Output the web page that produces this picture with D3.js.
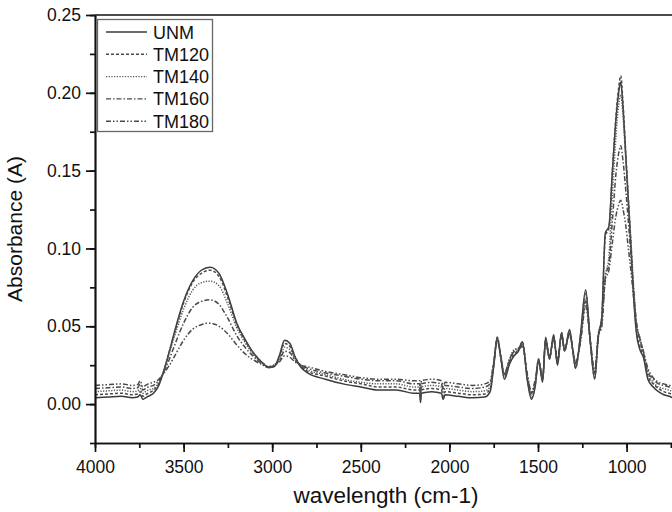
<!DOCTYPE html>
<html>
<head>
<meta charset="utf-8">
<script src="https://cdn.jsdelivr.net/npm/d3@7"></script>
<style>
  body { margin: 0; background: #fff; }
  svg { display: block; font-family: "Liberation Sans", Arial, sans-serif; }
</style>
</head>
<body>
<div id="chart"></div>
<script>
// wavenumber grid (cm-1), descending
const wavenumbers = [
  4000, 3925, 3850, 3790, 3760, 3745, 3730, 3715, 3700, 3670,
  3640, 3610, 3580, 3550, 3500, 3450, 3400, 3350, 3300, 3250,
  3200, 3150, 3100, 3050, 3020, 2990, 2960, 2930, 2900, 2870,
  2840, 2800, 2700, 2600, 2500, 2400, 2300, 2200, 2168, 2163,
  2158, 2100, 2045, 2035, 2025, 1950, 1870, 1800, 1770, 1750,
  1730, 1710, 1690, 1660, 1635, 1610, 1588, 1560, 1537, 1515,
  1497, 1474, 1457, 1435, 1412, 1390, 1367, 1350, 1322, 1300,
  1288, 1260, 1231, 1205, 1180, 1160, 1140, 1120, 1100, 1080,
  1060, 1045, 1033, 1020, 1005, 990, 975, 960, 945, 925,
  905, 880, 850, 820, 790, 760, 730, 700
];

const unm = [
  0.004, 0.0045, 0.005, 0.004, 0.0045, 0.006, 0.003, 0.004, 0.005, 0.007,
  0.012, 0.022, 0.034, 0.047, 0.066, 0.079, 0.086, 0.088, 0.084, 0.070,
  0.052, 0.041, 0.032, 0.026, 0.0235, 0.024, 0.031, 0.041, 0.039, 0.030,
  0.024, 0.020, 0.016, 0.013, 0.011, 0.009, 0.009, 0.007, 0.007, 0.001,
  0.007, 0.008, 0.007, 0.003, 0.006, 0.005, 0.004, 0.0045, 0.008, 0.024,
  0.043, 0.030, 0.016, 0.026, 0.031, 0.034, 0.040, 0.015, 0.003, 0.012,
  0.029, 0.014, 0.043, 0.029, 0.0445, 0.025, 0.046, 0.034, 0.048, 0.031,
  0.023, 0.045, 0.0735, 0.040, 0.016, 0.043, 0.056, 0.110, 0.114, 0.150,
  0.183, 0.200, 0.207, 0.190, 0.160, 0.130, 0.100, 0.068, 0.046, 0.035,
  0.030, 0.016, 0.011, 0.008, 0.006, 0.005, 0.004, 0.004
];

const tm120 = [
  0.006, 0.0065, 0.007, 0.006, 0.0065, 0.008, 0.005, 0.006, 0.007, 0.009,
  0.013, 0.022, 0.034, 0.046, 0.065, 0.078, 0.084, 0.086, 0.082, 0.068,
  0.051, 0.040, 0.032, 0.026, 0.0235, 0.024, 0.030, 0.039, 0.037, 0.030,
  0.025, 0.021, 0.018, 0.015, 0.013, 0.011, 0.011, 0.009, 0.009, 0.003,
  0.009, 0.010, 0.009, 0.005, 0.008, 0.007, 0.006, 0.0065, 0.010, 0.025,
  0.043, 0.030, 0.017, 0.027, 0.032, 0.035, 0.040, 0.016, 0.004, 0.013,
  0.029, 0.015, 0.042, 0.029, 0.044, 0.026, 0.046, 0.034, 0.047, 0.031,
  0.023, 0.044, 0.072, 0.040, 0.017, 0.043, 0.056, 0.108, 0.113, 0.150,
  0.185, 0.203, 0.211, 0.193, 0.162, 0.132, 0.102, 0.070, 0.048, 0.037,
  0.031, 0.018, 0.013, 0.010, 0.008, 0.007, 0.006, 0.006
];

const tm140 = [
  0.008, 0.0085, 0.009, 0.008, 0.0085, 0.010, 0.007, 0.008, 0.009, 0.010,
  0.014, 0.022, 0.033, 0.044, 0.061, 0.073, 0.078, 0.079, 0.076, 0.064,
  0.049, 0.039, 0.031, 0.026, 0.024, 0.025, 0.029, 0.0365, 0.035, 0.029,
  0.025, 0.022, 0.019, 0.016, 0.014, 0.013, 0.013, 0.011, 0.011, 0.005,
  0.011, 0.012, 0.011, 0.007, 0.010, 0.009, 0.008, 0.0085, 0.011, 0.025,
  0.042, 0.031, 0.019, 0.029, 0.035, 0.036, 0.039, 0.017, 0.006, 0.014,
  0.028, 0.016, 0.041, 0.030, 0.043, 0.027, 0.045, 0.035, 0.046, 0.032,
  0.025, 0.042, 0.068, 0.041, 0.019, 0.045, 0.054, 0.082, 0.095, 0.135,
  0.172, 0.192, 0.199, 0.185, 0.158, 0.131, 0.104, 0.075, 0.052, 0.043,
  0.033, 0.020, 0.014, 0.011, 0.010, 0.009, 0.008, 0.008
];

const tm160 = [
  0.010, 0.0105, 0.011, 0.010, 0.0105, 0.013, 0.009, 0.010, 0.011, 0.012,
  0.015, 0.021, 0.029, 0.038, 0.052, 0.062, 0.066, 0.067, 0.064, 0.055,
  0.044, 0.036, 0.030, 0.025, 0.0235, 0.025, 0.028, 0.034, 0.033, 0.028,
  0.025, 0.023, 0.020, 0.018, 0.016, 0.015, 0.015, 0.013, 0.013, 0.007,
  0.013, 0.014, 0.013, 0.009, 0.012, 0.011, 0.010, 0.011, 0.013, 0.026,
  0.041, 0.030, 0.019, 0.028, 0.034, 0.036, 0.038, 0.018, 0.007, 0.015,
  0.028, 0.017, 0.040, 0.030, 0.042, 0.028, 0.044, 0.035, 0.045, 0.032,
  0.026, 0.041, 0.066, 0.041, 0.020, 0.044, 0.052, 0.082, 0.090, 0.118,
  0.148, 0.161, 0.166, 0.156, 0.138, 0.117, 0.095, 0.073, 0.053, 0.041,
  0.033, 0.021, 0.016, 0.013, 0.012, 0.011, 0.010, 0.010
];

const tm180 = [
  0.012, 0.0125, 0.013, 0.012, 0.0125, 0.015, 0.011, 0.012, 0.013, 0.014,
  0.016, 0.020, 0.025, 0.031, 0.041, 0.048, 0.051, 0.052, 0.050, 0.045,
  0.038, 0.032, 0.028, 0.025, 0.024, 0.025, 0.027, 0.031, 0.030, 0.027,
  0.025, 0.024, 0.021, 0.019, 0.017, 0.016, 0.016, 0.015, 0.015, 0.009,
  0.015, 0.016, 0.015, 0.011, 0.014, 0.013, 0.012, 0.013, 0.015, 0.027,
  0.041, 0.031, 0.020, 0.029, 0.034, 0.035, 0.037, 0.019, 0.008, 0.016,
  0.027, 0.018, 0.039, 0.031, 0.041, 0.029, 0.043, 0.036, 0.044, 0.033,
  0.027, 0.040, 0.063, 0.041, 0.021, 0.043, 0.050, 0.080, 0.086, 0.104,
  0.121, 0.128, 0.131, 0.125, 0.115, 0.100, 0.085, 0.068, 0.052, 0.042,
  0.034, 0.023, 0.017, 0.014, 0.013, 0.012, 0.012, 0.012
];

const seriesNames = ['UNM', 'TM120', 'TM140', 'TM160', 'TM180'];
const seriesValues = [unm, tm120, tm140, tm160, tm180];
const dashes = [null, '3,2', '1.2,1.5', '5,2,1.5,2', '5,2,1.5,2,1.5,2'];
const strokes = ['#3a3a3a', '#4a4a4a', '#555', '#4a4a4a', '#4a4a4a'];

const xTicks = [4000, 3500, 3000, 2500, 2000, 1500, 1000];
const yTicks = [0.00, 0.05, 0.10, 0.15, 0.20, 0.25];

const W = 672, H = 512;
const plotLeft = 95, plotTop = 15, plotBottom = 443;

const svg = d3.select('#chart').append('svg')
    .attr('width', W)
    .attr('height', H);

const x = d3.scaleLinear().domain([4000, 600]).range([plotLeft, plotLeft + 3400 / 500 * 88.6]);
const y = d3.scaleLinear().domain([-0.025, 0.25]).range([plotBottom, plotTop]);

svg.append('defs').append('clipPath').attr('id', 'plot-clip')
    .append('rect')
    .attr('x', plotLeft).attr('y', plotTop)
    .attr('width', W - plotLeft).attr('height', plotBottom - plotTop);

// spectra
const line = d3.line()
    .x(d => x(d[0]))
    .y(d => y(d[1]))
    .curve(d3.curveMonotoneX);

const plot = svg.append('g').attr('clip-path', 'url(#plot-clip)');
seriesValues.forEach((vals, i) => {
    plot.append('path')
        .datum(wavenumbers.map((w, j) => [w, vals[j]]))
        .attr('fill', 'none')
        .attr('stroke', strokes[i])
        .attr('stroke-width', 1.5)
        .attr('stroke-dasharray', dashes[i])
        .attr('d', line);
});

// axes
const styleAxis = g => {
    g.selectAll('path, line').attr('stroke', '#111').attr('stroke-width', 1.7);
    g.selectAll('text').attr('fill', '#111').style('font-size', '17.5px')
        .style('font-family', '"Liberation Sans", Arial, sans-serif');
};

svg.append('g')
    .attr('transform', `translate(0,${plotBottom})`)
    .call(d3.axisBottom(x).tickValues(d3.range(4000, 599, -250)).tickFormat('').tickSize(5).tickSizeOuter(0))
    .call(styleAxis);

svg.append('g')
    .attr('transform', `translate(0,${plotBottom})`)
    .call(d3.axisBottom(x).tickValues(xTicks).tickFormat(d3.format('d')).tickSize(9).tickPadding(9).tickSizeOuter(0))
    .call(styleAxis);

svg.append('g')
    .attr('transform', `translate(${plotLeft},0)`)
    .call(d3.axisLeft(y).tickValues(d3.range(-0.025, 0.2501, 0.025)).tickFormat('').tickSize(5).tickSizeOuter(0))
    .call(styleAxis);

svg.append('g')
    .attr('transform', `translate(${plotLeft},0)`)
    .call(d3.axisLeft(y).tickValues(yTicks).tickFormat(d3.format('.2f')).tickSize(9).tickPadding(5).tickSizeOuter(0))
    .call(styleAxis);

// top frame line
svg.append('line')
    .attr('x1', plotLeft).attr('x2', W)
    .attr('y1', plotTop).attr('y2', plotTop)
    .attr('stroke', '#111').attr('stroke-width', 1.7);

// axis titles
svg.append('text')
    .attr('x', 386).attr('y', 503)
    .attr('text-anchor', 'middle')
    .style('font-size', '22.5px')
    .attr('fill', '#111')
    .text('wavelength (cm-1)');

svg.append('text')
    .attr('transform', 'translate(22,229) rotate(-90)')
    .attr('text-anchor', 'middle')
    .style('font-size', '21px')
    .attr('fill', '#111')
    .text('Absorbance (A)');

// legend
const legend = svg.append('g');
legend.append('rect')
    .attr('x', 97.5).attr('y', 19.5)
    .attr('width', 115).attr('height', 112)
    .attr('fill', '#fff')
    .attr('stroke', '#666').attr('stroke-width', 1.3);

seriesNames.forEach((name, i) => {
    const cy = 32 + i * 22.3;
    legend.append('line')
        .attr('x1', 106).attr('x2', 147)
        .attr('y1', cy).attr('y2', cy)
        .attr('stroke', strokes[i])
        .attr('stroke-width', 1.4)
        .attr('stroke-dasharray', dashes[i]);
    legend.append('text')
        .attr('x', 153).attr('y', cy + 6.5)
        .style('font-size', '18px')
        .attr('fill', '#111')
        .text(name);
});
</script>
</body>
</html>
